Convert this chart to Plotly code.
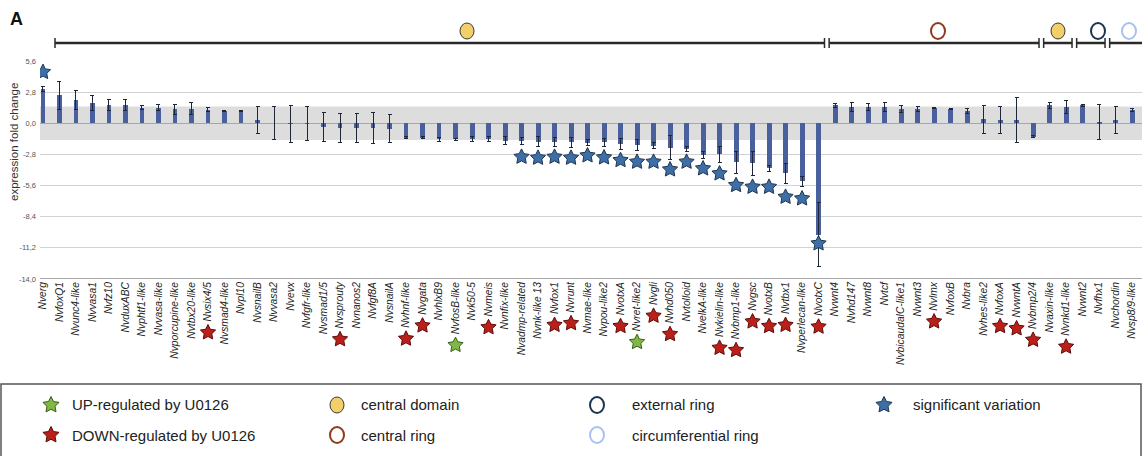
import math
import plotly.graph_objects as go

# ---------------- data ----------------
genes = ["Nverg", "NvfoxQ1", "Nvunc4-like", "Nvvasa1", "Nvfz10", "NvduxABC", "Nvphtf1-like",
         "Nvvasa-like", "Nvporcupine-like", "Nvtbx20-like", "Nvsix4/5", "Nvsmad4-like", "Nvpl10",
         "NvsnailB", "Nvvasa2", "Nvevx", "Nvfgfr-like", "Nvsmad1/5", "Nvsprouty", "Nvnanos2",
         "Nvfgf8A", "NvsnailA", "Nvhnf-like", "Nvgata", "NvhlxB9", "NvfosB-like", "Nvk50-5",
         "Nvmeis", "Nvnfix-like", "Nvadmp-related", "Nvnk-like 13", "Nvfox1", "Nvrunt",
         "Nvmae-like", "Nvpou-like2", "NvotxA", "Nvret-like2", "Nvgli", "Nvhd050", "Nvtolloid",
         "NvelkA-like", "Nvkielin-like", "Nvbmp1-like", "Nvgsc", "NvotxB", "Nvtbx1",
         "Nvperlecan-like", "NvotxC", "Nvwnt4", "Nvhd147", "Nvwnt8", "Nvtcf", "NvbicaudalC-like1",
         "Nvwnt3", "Nvlmx", "NvfoxB", "Nvbra", "Nvhes-like2", "NvfoxA", "NvwntA", "Nvbmp2/4",
         "Nvaxin-like", "Nvnkd1-like", "Nvwnt2", "Nvfhx1", "Nvchordin", "Nvsp8/9-like"]

fold_change = [3.1, 2.5, 2.1, 1.83, 1.62, 1.62, 1.4, 1.4, 1.25, 1.3, 1.23, 1.08, 1.08,
               0.3, 0.0, -0.04, -0.05, -0.35, -0.4, -0.4, -0.45, -0.5, -1.28, -1.28, -1.45,
               -1.45, -1.45, -1.4, -1.55, -1.6, -1.65, -1.65, -1.7, -1.75, -1.7, -1.85, -1.95,
               -2.0, -2.2, -2.3, -2.85, -2.8, -3.5, -3.6, -4.05, -4.5, -5.2, -10.0,
               1.6, 1.5, 1.45, 1.5, 1.3, 1.3, 1.36, 1.3, 1.1, 0.35, 0.3, 0.3, -1.2,
               1.6, 1.45, 1.6, 0.1, 0.3, 1.2]

fold_error = [0.25, 1.3, 0.85, 0.7, 0.5, 0.5, 0.2, 0.25, 0.45, 0.55, 0.17, 0.05, 0.05,
              1.2, 1.5, 1.66, 1.53, 1.3, 1.3, 1.3, 1.38, 1.27, 0.05, 0.05, 0.15,
              0.1, 0.22, 0.2, 0.4, 0.3, 0.45, 0.4, 0.45, 0.25, 0.35, 0.5, 0.5,
              0.3, 1.1, 0.2, 0.3, 0.7, 1.0, 1.05, 0.25, 0.9, 0.45, 2.9,
              0.2, 0.4, 0.3, 0.4, 0.3, 0.25, 0.05, 0.05, 0.2, 1.25, 1.2, 2.0, 0.1,
              0.3, 0.6, 0.1, 1.6, 1.2, 0.1]

significant_genes = ["Nverg", "Nvadmp-related", "Nvnk-like 13", "Nvfox1", "Nvrunt", "Nvmae-like",
                     "Nvpou-like2", "NvotxA", "Nvret-like2", "Nvgli", "Nvhd050", "Nvtolloid",
                     "NvelkA-like", "Nvkielin-like", "Nvbmp1-like", "Nvgsc", "NvotxB", "Nvtbx1",
                     "Nvperlecan-like", "NvotxC"]
significant_star_level = [4.6, -3.02, -3.11, -3.02, -3.11, -2.9, -3.08, -3.32, -3.47, -3.47,
                          -4.16, -3.47, -4.07, -4.52, -5.57, -5.72, -5.72, -6.62, -6.77, -10.81]

up_regulated_u0126 = ["NvfosB-like", "Nvret-like2"]
down_regulated_u0126 = ["Nvsix4/5", "Nvsprouty", "Nvhnf-like", "Nvgata", "Nvmeis", "Nvfox1",
                        "Nvrunt", "NvotxA", "Nvgli", "Nvhd050", "Nvkielin-like", "Nvbmp1-like",
                        "Nvgsc", "NvotxB", "Nvtbx1", "NvotxC", "Nvlmx", "NvfoxA", "NvwntA",
                        "Nvbmp2/4", "Nvnkd1-like"]

region_names = ["central domain", "central ring", "central domain", "external ring",
                "circumferential ring"]
region_last_gene = ["NvotxC", "Nvbmp2/4", "Nvnkd1-like", "Nvfhx1", "Nvsp8/9-like"]

y_tick_values = [-14.0, -11.2, -8.4, -5.6, -2.8, 0.0, 2.8, 5.6]
y_tick_labels = ["-14,0", "-11,2", "-8,4", "-5,6", "-2,8", "0,0", "2,8", "5,6"]
threshold = 1.5

# ---------------- layout constants ----------------
W, H = 1142, 456
ML, MR, MT, MB = 40, 0, 61, 177
XR = [-0.18, 66.6]
YR = [-14.0, 5.6]
PW, PH = W - ML - MR, H - MT - MB


def px2x(px):
    return XR[0] + (px - ML) / PW * (XR[1] - XR[0])


def py2y(py):
    return YR[1] - (py - MT) / PH * (YR[1] - YR[0])


def px2paper(px):
    return (px - ML) / PW


def py2paper(py):
    return (H - MB - py) / PH


region_style = {
    "central domain": dict(fill="#f3cf6a", line="#3a3a3a"),
    "central ring": dict(fill="rgba(255,255,255,0)", line="#8e3b20"),
    "external ring": dict(fill="rgba(255,255,255,0)", line="#1b3550"),
    "circumferential ring": dict(fill="rgba(255,255,255,0)", line="#a9c0f2"),
}
region_marker_px = [467, 938, 1058, 1098, 1129]

BAR_COLOR = "#4a609c"
BLUE_STAR = dict(color="#3d6fa6", line="#1d3552")
RED_STAR = dict(color="#bb1f1a", line="#5c0d0a")
GREEN_STAR = dict(color="#7fb843", line="#3a5e1c")

LABEL_SIZE = 10.3
ARIAL = {c: w for c, w in zip("abcdefghijklmnopqrstuvwxyz",
         [556, 556, 500, 556, 556, 278, 556, 556, 222, 222, 500, 222, 833, 556, 556, 556, 556,
          333, 500, 278, 556, 500, 722, 500, 500, 500])}
ARIAL.update({c: w for c, w in zip("ABCDEFGHIJKLMNOPQRSTUVWXYZ",
              [667, 667, 722, 722, 667, 611, 778, 722, 278, 500, 667, 556, 833, 722, 778, 667,
               778, 722, 667, 611, 722, 667, 944, 667, 667, 611])})
ARIAL.update({"-": 333, "/": 278, " ": 278})


def text_px(s, size):
    return sum(ARIAL.get(c, 556) for c in s) / 1000.0 * size


def star_path(R=8.0, ratio=0.5):
    pts = []
    for k in range(10):
        a = math.radians(90 + 36 * k)
        r = R if k % 2 == 0 else R * ratio
        pts.append((r * math.cos(a), r * math.sin(a)))
    return "M " + " L ".join(f"{x:.2f},{y:.2f}" for x, y in pts) + " Z"


def star_shape(xref, yref, xa, ya, style, R=8.0):
    return dict(type="path", xref=xref, yref=yref, xsizemode="pixel", ysizemode="pixel",
                xanchor=xa, yanchor=ya, path=star_path(R), fillcolor=style["color"],
                line=dict(color=style["line"], width=1), layer="above")


def circle_shape(xref, yref, xa, ya, fill, line, rx=7, ry=8, lw=2):
    return dict(type="circle", xref=xref, yref=yref, xsizemode="pixel", ysizemode="pixel",
                xanchor=xa, yanchor=ya, x0=-rx, x1=rx, y0=-ry, y1=ry, fillcolor=fill,
                line=dict(color=line, width=lw), layer="above")


idx = {g: i for i, g in enumerate(genes)}

fig = go.Figure()

# bars with error bars
fig.add_trace(go.Bar(
    x=list(range(len(genes))), y=fold_change, width=0.3,
    marker=dict(color=BAR_COLOR, line=dict(width=0)),
    error_y=dict(type="data", array=fold_error, visible=True, color="#1e2638",
                 thickness=1, width=2),
    showlegend=False, hoverinfo="skip"))

shapes = []
annotations = []

# grey non-significance band
shapes.append(dict(type="rect", xref="paper", yref="y", x0=0, x1=1, y0=-threshold, y1=threshold,
                   fillcolor="#dddddd", line=dict(width=0), layer="below"))
# bottom axis line
shapes.append(dict(type="line", xref="paper", yref="y", x0=0, x1=1, y0=YR[0], y1=YR[0],
                   line=dict(color="#8a8a8a", width=1.5)))

# significant variation stars
for g, lvl in zip(significant_genes, significant_star_level):
    shapes.append(star_shape("x", "y", idx[g], lvl, BLUE_STAR))

# U0126 stars below the gene labels
for group, st in ((down_regulated_u0126, RED_STAR), (up_regulated_u0126, GREEN_STAR)):
    for g in group:
        py = H - MB + 4 + text_px(g, LABEL_SIZE) + 10
        shapes.append(star_shape("x", "paper", idx[g], py2paper(py), st))

# region bracket
bounds = [idx[g] + 0.5 for g in region_last_gene[:-1]]
starts = [px2x(55)] + [b + 0.14 for b in bounds]
ends = [b - 0.14 for b in bounds] + [XR[1]]
yb = py2paper(43)
yt0, yt1 = py2paper(38), py2paper(48)
for k, (s, e) in enumerate(zip(starts, ends)):
    shapes.append(dict(type="line", xref="x", yref="paper", x0=s, x1=e, y0=yb, y1=yb,
                       line=dict(color="#2a2a2a", width=2.5)))
    shapes.append(dict(type="line", xref="x", yref="paper", x0=s, x1=s, y0=yt0, y1=yt1,
                       line=dict(color="#2a2a2a", width=1.5)))
    if k < len(starts) - 1:
        shapes.append(dict(type="line", xref="x", yref="paper", x0=e, x1=e, y0=yt0, y1=yt1,
                           line=dict(color="#2a2a2a", width=1.5)))

# region circles above the bracket
for name, px in zip(region_names, region_marker_px):
    stl = region_style[name]
    lw = 1 if name == "central domain" else 2
    shapes.append(circle_shape("paper", "paper", px2paper(px), py2paper(31), stl["fill"], stl["line"], lw=lw))

# legend box
shapes.append(dict(type="rect", xref="paper", yref="paper", x0=px2paper(1), x1=px2paper(1141),
                   y0=py2paper(470), y1=py2paper(384), line=dict(color="#555555", width=1.5),
                   fillcolor="rgba(0,0,0,0)"))

LEG_ROW = [405, 435]
legend_items = [
    ("star", GREEN_STAR, 51, LEG_ROW[0], "UP-regulated by U0126", 70),
    ("star", RED_STAR, 51, LEG_ROW[1], "DOWN-regulated by U0126", 70),
    ("circle", region_style["central domain"], 337, LEG_ROW[0], "central domain", 359),
    ("circle", region_style["central ring"], 337, LEG_ROW[1], "central ring", 359),
    ("circle", region_style["external ring"], 597, LEG_ROW[0], "external ring", 630),
    ("circle", region_style["circumferential ring"], 597, LEG_ROW[1], "circumferential ring", 630),
    ("star", BLUE_STAR, 884, LEG_ROW[0], "significant variation", 911),
]
for kind, stl, mx, my, label, tx in legend_items:
    if kind == "star":
        shapes.append(star_shape("paper", "paper", px2paper(mx), py2paper(my), stl, R=8.5))
    else:
        lw = 1 if stl is region_style["central domain"] else 2
        shapes.append(circle_shape("paper", "paper", px2paper(mx), py2paper(my), stl["fill"], stl["line"], lw=lw))
    annotations.append(dict(xref="paper", yref="paper", x=px2paper(tx), y=py2paper(my),
                            text=label, showarrow=False, xanchor="left", yanchor="middle",
                            font=dict(family="Liberation Sans, Arial", size=15, color="#222222")))

# panel letter and y title
annotations.append(dict(xref="paper", yref="paper", x=px2paper(8), y=py2paper(19), text="<b>A</b>",
                        showarrow=False, xanchor="left", yanchor="middle",
                        font=dict(family="Liberation Sans, Arial", size=18, color="#111111")))
annotations.append(dict(xref="paper", yref="paper", x=px2paper(14), y=py2paper(142),
                        text="expression fold change", textangle=-90, showarrow=False,
                        xanchor="center", yanchor="middle",
                        font=dict(family="Liberation Sans, Arial", size=11.5, color="#333333")))

fig.update_layout(
    width=W, height=H, autosize=False,
    margin=dict(l=ML, r=MR, t=MT, b=MB, pad=0),
    paper_bgcolor="white", plot_bgcolor="white",
    shapes=shapes, annotations=annotations, showlegend=False, bargap=0,
    xaxis=dict(range=XR, tickmode="array", tickvals=list(range(len(genes))), ticktext=genes,
               tickangle=-90, showgrid=False, zeroline=False, showline=False, ticks="",
               tickfont=dict(family="Liberation Sans, Arial", size=LABEL_SIZE, color="#222222",
                             style="italic")),
    yaxis=dict(range=YR, tickmode="array", tickvals=y_tick_values, ticktext=y_tick_labels,
               showgrid=True, gridcolor="#d2d2d2", gridwidth=1.2,
               zeroline=True, zerolinecolor="#a8a8a8", zerolinewidth=1,
               showline=False, ticks="", ticklen=0, ticklabelstandoff=3,
               tickfont=dict(family="Liberation Sans, Arial", size=7.5, color="#555555")),
)

fig.write_html("out.html", config={"displayModeBar": False},
               post_script="document.body.style.margin='0';document.body.style.overflow='hidden';")
